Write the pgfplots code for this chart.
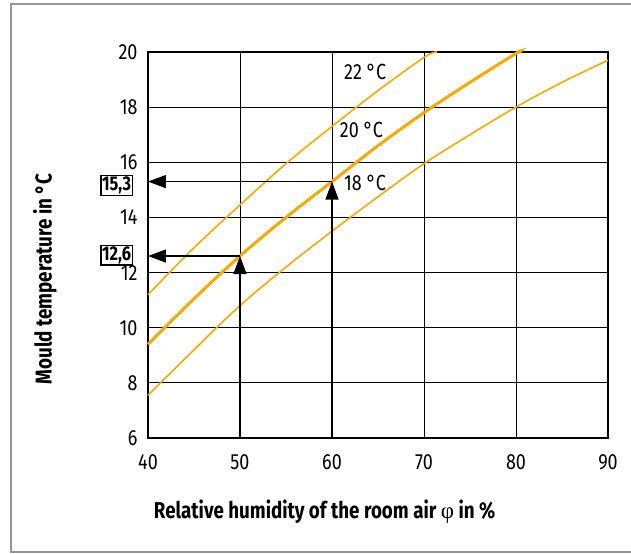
\documentclass[border=0pt]{standalone}
\usepackage{fontspec}
\setmainfont{Fira Sans}[FakeStretch=0.82]
\newfontfamily\phifont{Liberation Serif}
\usepackage{pgfplots}
\pgfplotsset{compat=1.18}
\usetikzlibrary{arrows.meta}
\definecolor{mouldorange}{RGB}{245,170,0}
\definecolor{framegrey}{RGB}{150,150,150}

\begin{document}
\begin{tikzpicture}
  \begin{axis}[
    name=ax,
    width=460bp, height=386bp,
    scale only axis,
    xmin=40, xmax=90,
    ymin=6, ymax=20,
    xtick={40,50,...,90},
    ytick={6,8,...,20},
    grid=major,
    major grid style={black, line width=0.9bp},
    axis line style={black, line width=1.5bp},
    major tick length=0pt,
    clip=false,
    /pgf/number format/assume math mode=true,
    tick label style={font=\fontsize{22}{22}\selectfont},
    xticklabel style={yshift=-13bp},
    yticklabel style={xshift=-7bp},
    label style={font=\fontsize{23}{23}\selectfont\bfseries},
    xlabel={Relative humidity of the room air {\mdseries\phifont φ} in \%},
    xlabel style={at={(axis description cs:0.384,0)}, anchor=center, yshift=-74bp},
    ylabel={Mould temperature in °C},
    ylabel style={at={(axis description cs:-0.224,0.412)}, anchor=center},
  ]
    % 18 degC room air
    \addplot[mouldorange, line width=1.6bp, smooth, tension=0.6] coordinates {
      (40,7.55) (45,9.2) (50,10.8) (55,12.2) (60,13.5) (65,14.75)
      (70,15.95) (75,17.0) (80,18.0) (85,18.9) (90,19.7)
    };
    % 20 degC room air
    \addplot[mouldorange, line width=3bp, smooth, tension=0.6] coordinates {
      (40,9.4) (45,11.05) (50,12.6) (55,14.0) (60,15.3) (65,16.6)
      (70,17.8) (75,18.9) (80,19.95) (80.4,20)
    };
    % 22 degC room air
    \addplot[mouldorange, line width=1.6bp, smooth, tension=0.6] coordinates {
      (40,11.2) (45,12.9) (50,14.45) (55,15.95) (60,17.3) (65,18.6)
      (70,19.8) (71.4,20)
    };

    % reading lines
    \addplot[black, line width=1.5bp, -{Triangle[length=18bp,width=13bp]}]
      coordinates {(50,6) (50,12.6)};
    \addplot[black, line width=1.5bp, -{Triangle[length=18bp,width=13bp]}]
      coordinates {(50,12.6) (40,12.6)};
    \addplot[black, line width=1.5bp, -{Triangle[length=18bp,width=13bp]}]
      coordinates {(60,6) (60,15.3)};
    \addplot[black, line width=1.5bp, -{Triangle[length=18bp,width=13bp]}]
      coordinates {(60,15.3) (40,15.3)};

    \node[font=\fontsize{22}{22}\selectfont] at (axis cs:63.6,19.27) {22 °C};
    \node[font=\fontsize{22}{22}\selectfont] at (axis cs:63.2,17.17) {20 °C};
    \node[font=\fontsize{22}{22}\selectfont] at (axis cs:63.6,15.25) {18 °C};

    \node[draw, line width=1.3bp, inner sep=1.2bp, anchor=east,
      font=\fontsize{20}{20}\selectfont\bfseries]
      at (axis cs:40,15.3) [xshift=-15bp, yshift=-4bp] {15,3};
    \node[draw, line width=1.3bp, inner sep=1.2bp, anchor=east,
      font=\fontsize{20}{20}\selectfont\bfseries]
      at (axis cs:40,12.6) [xshift=-15bp, yshift=1bp] {12,6};
  \end{axis}
  \useasboundingbox (ax.south west) ++(-148bp,-116bp) rectangle ++(631bp,554bp);
  \draw[framegrey, line width=2bp]
    (ax.south west) ++(495bp,434bp) -- ++(-632bp,0) -- ++(0,-548bp) -- ++(632bp,0);
\end{tikzpicture}
\end{document}
